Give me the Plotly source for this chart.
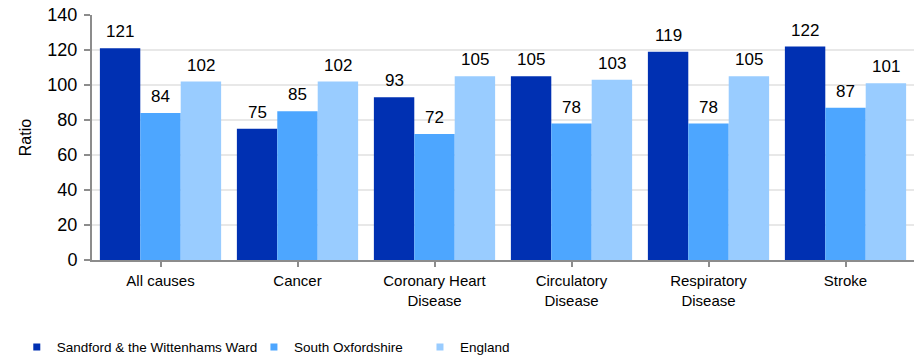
import plotly.graph_objects as go

# Standardised mortality ratios by cause of death
categories = ["All causes", "Cancer", "Coronary Heart<br>Disease", "Circulatory<br>Disease",
              "Respiratory<br>Disease", "Stroke"]
series_names = ["Sandford & the Wittenhams Ward", "South Oxfordshire", "England"]
ward_values = [121, 75, 93, 105, 119, 122]
district_values = [84, 85, 72, 78, 78, 87]
england_values = [102, 102, 105, 103, 105, 101]
y_ticks = [0, 20, 40, 60, 80, 100, 120, 140]

series_values = [ward_values, district_values, england_values]
colors = ["#0030B2", "#4DA6FF", "#99CCFF"]

W, H = 914, 363
margin = dict(l=92, r=0, t=15, b=103)
bargap = 0.115
n_series = len(series_values)
bar_w = (1 - bargap) / n_series  # bar width in category units

font_main = "Liberation Sans, Arial, sans-serif"

fig = go.Figure()
for name, vals, col in zip(series_names, series_values, colors):
    fig.add_trace(go.Bar(
        x=list(range(len(categories))), y=vals, name=name,
        marker=dict(color=col, line=dict(width=0)), showlegend=False,
    ))

# value labels above each bar
annotations = []
for s, vals in enumerate(series_values):
    for i, v in enumerate(vals):
        annotations.append(dict(
            x=i + (s - (n_series - 1) / 2) * bar_w, y=v, xref="x", yref="y",
            text=str(v), showarrow=False, yanchor="bottom", yshift=5,
            font=dict(family=font_main, size=17, color="#000000"),
        ))

# one legend per series so each entry sits at its own position
legend_x = [-0.0915, 0.197, 0.399]
legend_ids = ["legend", "legend2", "legend3"]
for name, col, lid in zip(series_names, colors, legend_ids):
    fig.add_trace(go.Scatter(
        x=[None], y=[None], mode="markers", name=name, legend=lid,
        marker=dict(symbol="square", size=7, color=col),
    ))

legend_common = dict(
    orientation="h", yanchor="bottom", y=-0.419, xanchor="left",
    bgcolor="rgba(0,0,0,0)", borderwidth=0,
    font=dict(family=font_main, size=13.5, color="#000000"),
)

fig.update_layout(
    width=W, height=H, margin=margin,
    paper_bgcolor="white", plot_bgcolor="white",
    barmode="group", bargap=bargap, bargroupgap=0,
    annotations=annotations,
    legend=dict(x=legend_x[0], **legend_common),
    legend2=dict(x=legend_x[1], **legend_common),
    legend3=dict(x=legend_x[2], **legend_common),
    xaxis=dict(
        tickmode="array", tickvals=list(range(len(categories))), ticktext=categories,
        range=[-0.5, len(categories) - 0.5], tickson="boundaries",
        ticks="outside", ticklen=5, tickwidth=2, tickcolor="#8c8c8c",
        showline=True, linecolor="#8c8c8c", linewidth=2,
        showgrid=False, zeroline=False, ticklabelstandoff=1,
        tickfont=dict(family=font_main, size=15, color="#000000"),
    ),
    yaxis=dict(
        range=[0, 140], tickmode="array", tickvals=y_ticks,
        ticks="outside", ticklen=6, tickwidth=2, tickcolor="#8c8c8c",
        showline=True, linecolor="#8c8c8c", linewidth=2,
        showgrid=True, gridcolor="#e8e8e8", gridwidth=2, zeroline=False,
        ticklabelstandoff=3,
        tickfont=dict(family=font_main, size=18, color="#000000"),
        title=dict(text="Ratio", standoff=12,
                   font=dict(family=font_main, size=16, color="#000000")),
    ),
)

fig.write_html("out.html")
